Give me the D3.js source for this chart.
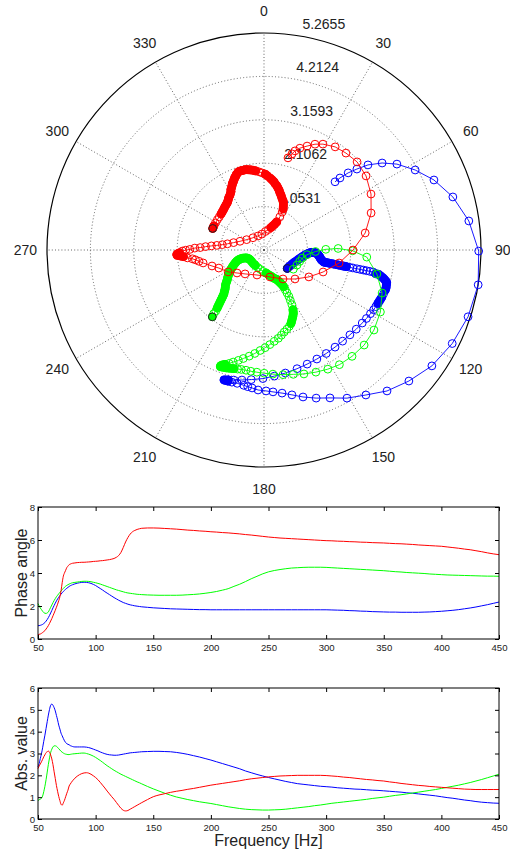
<!DOCTYPE html>
<html>
<head>
<meta charset="utf-8">
<script src="https://cdn.jsdelivr.net/npm/d3@7"></script>
<style>
  body { margin: 0; background: #fff; }
  svg { display: block; font-family: "Liberation Sans", Arial, Helvetica, sans-serif; }
</style>
</head>
<body>
<svg id="chart" width="510" height="851"></svg>
<script>
// frequency samples (Hz)
const freq = [
  50, 51, 52, 53, 54, 55, 56, 57, 58, 59, 60, 61, 62, 63, 64, 65, 66, 67, 68, 69,
  70, 71, 72, 73, 74, 75, 76, 77, 78, 79, 80,
  82, 84, 86, 88, 90, 92, 94, 96, 98, 100, 102, 104, 106, 108, 110, 112, 114, 116, 118, 120,
  122, 124, 126, 128, 130, 132, 134, 136, 138, 140,
  145, 150, 155, 160, 165, 170, 175, 180, 185, 190, 195, 200, 205, 210, 215, 220, 225, 230, 235, 240,
  245, 250, 255, 260, 265, 270, 275, 280, 285, 290, 295, 300, 305, 310, 315, 320, 325, 330, 335, 340,
  345, 350, 355, 360, 365, 370, 375, 380, 385, 390, 395, 400, 405, 410, 415, 420, 425, 430, 435, 440,
  445, 450
];

const redAbs = [
  2.31, 2.43, 2.52, 2.62, 2.73, 2.85, 2.94, 3.04, 3.08, 3.11, 3.06, 2.93, 2.75, 2.49, 2.16, 1.85, 1.53, 1.27, 1.03, 0.84,
  0.67, 0.63, 0.74, 0.86, 1.02, 1.18, 1.32, 1.51, 1.6, 1.68, 1.75,
  1.87, 1.96, 2.03, 2.08, 2.11, 2.12, 2.1, 2.05, 1.98, 1.9, 1.8, 1.68, 1.55, 1.42, 1.28, 1.15, 1.02, 0.9, 0.76, 0.62,
  0.49, 0.4, 0.37, 0.39, 0.45, 0.51, 0.57, 0.63, 0.69, 0.75,
  0.89, 1.02, 1.1, 1.16, 1.22, 1.27, 1.31, 1.36, 1.4, 1.45, 1.5, 1.55, 1.59, 1.63, 1.67, 1.71, 1.75, 1.8, 1.84, 1.87,
  1.9, 1.93, 1.95, 1.97, 1.98, 1.99, 2.0, 2.0, 2.0, 2.0, 2.0, 1.99, 1.97, 1.95, 1.92, 1.9, 1.87, 1.84, 1.81, 1.79,
  1.76, 1.74, 1.7, 1.67, 1.63, 1.6, 1.57, 1.54, 1.52, 1.49, 1.47, 1.45, 1.43, 1.41, 1.39, 1.37, 1.36, 1.35, 1.35, 1.35,
  1.35, 1.35
];
const redPhase = [
  0.255, 0.284, 0.303, 0.339, 0.393, 0.449, 0.508, 0.604, 0.702, 0.813, 0.943, 1.089, 1.238, 1.404, 1.571, 1.742, 1.927, 2.111, 2.323, 2.562,
  2.923, 3.414, 3.811, 4.007, 4.164, 4.332, 4.414, 4.503, 4.54, 4.57, 4.59,
  4.61, 4.63, 4.64, 4.65, 4.65, 4.66, 4.67, 4.68, 4.7, 4.71, 4.72, 4.74, 4.75, 4.77, 4.79, 4.81, 4.84, 4.88, 4.95, 5.06,
  5.25, 5.55, 5.88, 6.15, 6.36, 6.5, 6.58, 6.64, 6.68, 6.71,
  6.73, 6.73, 6.72, 6.7, 6.68, 6.66, 6.63, 6.6, 6.58, 6.55, 6.53, 6.5, 6.48, 6.45, 6.43, 6.4, 6.37, 6.33, 6.3, 6.26,
  6.22, 6.18, 6.15, 6.12, 6.1, 6.08, 6.06, 6.04, 6.02, 6.0, 5.98, 5.96, 5.95, 5.93, 5.92, 5.9, 5.89, 5.87, 5.86, 5.84,
  5.83, 5.82, 5.8, 5.78, 5.77, 5.75, 5.73, 5.7, 5.68, 5.66, 5.64, 5.62, 5.58, 5.54, 5.5, 5.45, 5.41, 5.35, 5.29, 5.22,
  5.16, 5.11
];

const greenAbs = [
  0.85, 0.88, 0.91, 0.95, 1.05, 1.25, 1.5, 1.8, 2.15, 2.5, 2.8, 3.05, 3.2, 3.3, 3.35, 3.35, 3.33, 3.28, 3.22, 3.16,
  3.1, 3.06, 3.02, 2.99, 2.97, 2.96, 2.95, 2.95, 2.96, 2.97, 2.98,
  2.99, 3.0, 3.01, 3.02, 3.02, 3.0, 2.97, 2.93, 2.88, 2.82, 2.75, 2.68, 2.6, 2.52, 2.44, 2.37, 2.3, 2.23, 2.17, 2.11,
  2.05, 2.0, 1.95, 1.9, 1.85, 1.8, 1.75, 1.7, 1.66, 1.61,
  1.49, 1.38, 1.28, 1.18, 1.09, 1.01, 0.95, 0.89, 0.84, 0.79, 0.75, 0.71, 0.66, 0.61, 0.56, 0.52, 0.48, 0.45, 0.43, 0.42,
  0.41, 0.41, 0.42, 0.43, 0.45, 0.48, 0.51, 0.54, 0.57, 0.61, 0.64, 0.68, 0.72, 0.75, 0.78, 0.81, 0.84, 0.87, 0.9, 0.94,
  0.97, 1.0, 1.04, 1.08, 1.11, 1.15, 1.19, 1.23, 1.27, 1.31, 1.35, 1.4, 1.45, 1.5, 1.55, 1.61, 1.67, 1.74, 1.81, 1.89,
  1.97, 2.05
];
const greenPhase = [
  2.15, 2.0, 1.88, 1.78, 1.68, 1.6, 1.56, 1.55, 1.58, 1.64, 1.78, 1.92, 2.06, 2.2, 2.33, 2.45, 2.56, 2.65, 2.74, 2.83,
  2.91, 2.99, 3.07, 3.14, 3.2, 3.25, 3.29, 3.33, 3.36, 3.39, 3.41,
  3.43, 3.45, 3.47, 3.49, 3.5, 3.5, 3.49, 3.47, 3.44, 3.41, 3.37, 3.33, 3.28, 3.23, 3.18, 3.13, 3.08, 3.03, 2.98, 2.94,
  2.9, 2.86, 2.82, 2.79, 2.77, 2.75, 2.73, 2.71, 2.7, 2.69,
  2.67, 2.66, 2.65, 2.65, 2.65, 2.65, 2.66, 2.68, 2.7, 2.73, 2.77, 2.82, 2.88, 2.96, 3.05, 3.19, 3.32, 3.48, 3.65, 3.8,
  3.95, 4.07, 4.15, 4.21, 4.26, 4.3, 4.32, 4.34, 4.35, 4.35, 4.35, 4.34, 4.32, 4.3, 4.28, 4.26, 4.24, 4.22, 4.2, 4.18,
  4.16, 4.14, 4.11, 4.08, 4.06, 4.03, 4.01, 3.99, 3.97, 3.94, 3.92, 3.9, 3.88, 3.87, 3.86, 3.85, 3.84, 3.83, 3.82, 3.81,
  3.81, 3.8
];

const blueAbs = [
  2.39, 2.54, 2.77, 2.99, 3.26, 3.56, 3.84, 4.15, 4.46, 4.76, 5.02, 5.21, 5.265, 5.21, 5.1, 4.95, 4.74, 4.54, 4.3, 4.12,
  3.93, 3.81, 3.69, 3.58, 3.5, 3.45, 3.42, 3.4, 3.36, 3.34, 3.32,
  3.3, 3.3, 3.3, 3.3, 3.3, 3.29, 3.27, 3.24, 3.2, 3.16, 3.12, 3.07, 3.03, 2.99, 2.96, 2.94, 2.93, 2.92, 2.92, 2.93,
  2.95, 2.97, 2.99, 3.01, 3.03, 3.04, 3.05, 3.06, 3.07, 3.08,
  3.09, 3.1, 3.1, 3.09, 3.08, 3.05, 3.01, 2.96, 2.9, 2.84, 2.77, 2.7, 2.62, 2.54, 2.46, 2.38, 2.3, 2.2, 2.12, 2.04,
  1.97, 1.9, 1.84, 1.78, 1.72, 1.67, 1.62, 1.59, 1.56, 1.53, 1.5, 1.48, 1.46, 1.43, 1.41, 1.39, 1.37, 1.36, 1.34, 1.32,
  1.31, 1.29, 1.27, 1.25, 1.23, 1.2, 1.18, 1.15, 1.12, 1.09, 1.06, 1.02, 0.98, 0.95, 0.91, 0.87, 0.84, 0.8, 0.77, 0.75,
  0.73, 0.72
];
const bluePhase = [
  0.806, 0.812, 0.829, 0.854, 0.885, 0.936, 0.997, 1.084, 1.18, 1.297, 1.43, 1.576, 1.732, 1.887, 2.032, 2.175, 2.306, 2.424, 2.529, 2.631,
  2.722, 2.803, 2.882, 2.951, 3.016, 3.078, 3.127, 3.184, 3.228, 3.26, 3.29,
  3.34, 3.38, 3.41, 3.43, 3.44, 3.43, 3.41, 3.37, 3.31, 3.24, 3.15, 3.06, 2.97, 2.87, 2.78, 2.69, 2.6, 2.51, 2.43, 2.35,
  2.28, 2.21, 2.16, 2.11, 2.07, 2.04, 2.01, 1.99, 1.97, 1.95,
  1.92, 1.89, 1.87, 1.85, 1.83, 1.82, 1.81, 1.8, 1.79, 1.78, 1.78, 1.77, 1.77, 1.77, 1.77, 1.77, 1.77, 1.77, 1.77, 1.77,
  1.77, 1.77, 1.77, 1.77, 1.77, 1.77, 1.77, 1.77, 1.77, 1.77, 1.77, 1.77, 1.76, 1.75, 1.74, 1.72, 1.71, 1.69, 1.68, 1.66,
  1.65, 1.64, 1.63, 1.63, 1.62, 1.62, 1.62, 1.62, 1.63, 1.64, 1.66, 1.68, 1.71, 1.74, 1.78, 1.83, 1.88, 1.94, 2.01, 2.08,
  2.16, 2.24
];

// tick labels
const ringTicks = [1.0531, 2.1062, 3.1593, 4.2124, 5.2655];
const angleTicks = [0, 30, 60, 90, 120, 150, 180, 210, 240, 270, 300, 330];
const freqTicks = [50, 100, 150, 200, 250, 300, 350, 400, 450];
const phaseTicks = [0, 2, 4, 6, 8];
const absTicks = [0, 1, 2, 3, 4, 5, 6];

// drawn in this order: blue at the bottom, red on top
const series = [
  { color: "#0000ff", phase: bluePhase, abs: blueAbs },
  { color: "#00ff00", phase: greenPhase, abs: greenAbs },
  { color: "#ff0000", phase: redPhase, abs: redAbs }
];

const svg = d3.select("#chart");

// ---------- polar plot ----------
const cx = 264, cy = 250, R = 217;
const markR = 3.9, markW = 1;
const rScale = d3.scaleLinear().domain([0, ringTicks[ringTicks.length - 1]]).range([0, R]);
const toRad = d => d * Math.PI / 180;

const polar = svg.append("g").attr("transform", `translate(${cx},${cy})`);

polar.selectAll("circle.ring")
  .data(ringTicks.slice(0, -1))
  .join("circle")
  .attr("class", "ring")
  .attr("r", d => rScale(d))
  .attr("fill", "none")
  .attr("stroke", "#555")
  .attr("stroke-width", 0.9)
  .attr("stroke-dasharray", "1,2.2");

polar.selectAll("line.spoke")
  .data(angleTicks)
  .join("line")
  .attr("class", "spoke")
  .attr("x1", 0).attr("y1", 0)
  .attr("x2", d => d3.pointRadial(toRad(d), R)[0])
  .attr("y2", d => d3.pointRadial(toRad(d), R)[1])
  .attr("stroke", "#555")
  .attr("stroke-width", 0.9)
  .attr("stroke-dasharray", "1,2.2");

polar.append("circle")
  .attr("r", R)
  .attr("fill", "none")
  .attr("stroke", "#000")
  .attr("stroke-width", 1.2);

polar.selectAll("text.angle")
  .data(angleTicks)
  .join("text")
  .attr("class", "angle")
  .attr("x", d => d3.pointRadial(toRad(d), R * 1.1)[0])
  .attr("y", d => d3.pointRadial(toRad(d), R * 1.1)[1])
  .attr("text-anchor", "middle")
  .attr("dominant-baseline", "central")
  .attr("font-size", 14)
  .attr("fill", "#222")
  .text(d => d);

polar.selectAll("text.ringlab")
  .data(ringTicks)
  .join("text")
  .attr("class", "ringlab")
  .attr("x", d => 0.14 * rScale(d) + 8)
  .attr("y", d => -rScale(d) - 4)
  .attr("font-size", 14)
  .attr("fill", "#222")
  .text(d => d.toFixed(4));

const lineRadial = d3.lineRadial()
  .angle(d => d.ph)
  .radius(d => rScale(d.ab));

series.forEach(s => {
  const pts = freq.map((f, i) => ({ f: f, ph: s.phase[i], ab: s.abs[i] }));
  const xy = pts.map(d => d3.pointRadial(d.ph, rScale(d.ab)));
  const g = polar.append("g");

  // where the markers sit almost on top of each other they merge into a solid band
  const runs = [];
  let cur = null;
  for (let i = 1; i < xy.length; i++) {
    const dist = Math.hypot(xy[i][0] - xy[i - 1][0], xy[i][1] - xy[i - 1][1]);
    if (dist < 3) {
      if (!cur) { cur = [xy[i - 1]]; runs.push(cur); }
      cur.push(xy[i]);
    } else {
      cur = null;
    }
  }
  g.selectAll("path.band")
    .data(runs)
    .join("path")
    .attr("class", "band")
    .attr("d", d3.line())
    .attr("fill", "none")
    .attr("stroke", s.color)
    .attr("stroke-width", 2 * markR + markW)
    .attr("stroke-linecap", "round")
    .attr("stroke-linejoin", "round");

  g.append("path")
    .attr("d", lineRadial(pts))
    .attr("fill", "none")
    .attr("stroke", s.color)
    .attr("stroke-width", 0.9);
  g.selectAll("circle")
    .data(xy)
    .join("circle")
    .attr("cx", d => d[0])
    .attr("cy", d => d[1])
    .attr("r", markR)
    .attr("fill", "none")
    .attr("stroke", s.color)
    .attr("stroke-width", markW);
  const last = xy[xy.length - 1];
  g.append("circle")
    .attr("cx", last[0])
    .attr("cy", last[1])
    .attr("r", markR)
    .attr("fill", s.color)
    .attr("stroke", "#222")
    .attr("stroke-width", 1);
});

// ---------- line plots ----------
const x = d3.scaleLinear().domain([50, 450]).range([38, 499]);

function linePlot(top, bottom, yMax, yTicks, key, label) {
  const y = d3.scaleLinear().domain([0, yMax]).range([bottom, top]);
  const g = svg.append("g");

  const line = d3.line()
    .x((d, i) => x(freq[i]))
    .y(d => y(d))
    .curve(d3.curveMonotoneX);

  series.forEach(s => {
    g.append("path")
      .attr("d", line(s[key]))
      .attr("fill", "none")
      .attr("stroke", s.color)
      .attr("stroke-width", 1);
  });

  const styleAxis = a => {
    a.select(".domain").remove();
    a.selectAll("line").attr("stroke", "#000");
    a.selectAll("text").attr("fill", "#222").attr("font-size", 9.6)
      .attr("font-family", "Liberation Sans, Arial, sans-serif");
  };

  g.append("g").attr("transform", `translate(0,${bottom})`)
    .call(d3.axisBottom(x).tickValues(freqTicks).tickSize(-4).tickPadding(5).tickFormat(d3.format("d")))
    .call(styleAxis);
  g.append("g").attr("transform", `translate(0,${top})`)
    .call(d3.axisTop(x).tickValues(freqTicks).tickSize(-4).tickFormat(""))
    .call(styleAxis);
  g.append("g").attr("transform", `translate(${x.range()[0]},0)`)
    .call(d3.axisLeft(y).tickValues(yTicks).tickSize(-4).tickPadding(3).tickFormat(d3.format("d")))
    .call(styleAxis);
  g.append("g").attr("transform", `translate(${x.range()[1]},0)`)
    .call(d3.axisRight(y).tickValues(yTicks).tickSize(-4).tickFormat(""))
    .call(styleAxis);

  g.append("rect")
    .attr("x", x.range()[0]).attr("y", top)
    .attr("width", x.range()[1] - x.range()[0])
    .attr("height", bottom - top)
    .attr("fill", "none")
    .attr("stroke", "#000")
    .attr("stroke-width", 1);

  g.append("text")
    .attr("transform", `translate(27,${(top + bottom) / 2}) rotate(-90)`)
    .attr("text-anchor", "middle")
    .attr("font-size", 16)
    .attr("fill", "#222")
    .text(label);
}

linePlot(507, 639, 8, phaseTicks, "phase", "Phase angle");
linePlot(688, 819, 6, absTicks, "abs", "Abs. value");

svg.append("text")
  .attr("x", (x.range()[0] + x.range()[1]) / 2)
  .attr("y", 846)
  .attr("text-anchor", "middle")
  .attr("font-size", 16)
  .attr("fill", "#222")
  .text("Frequency [Hz]");
</script>
</body>
</html>
